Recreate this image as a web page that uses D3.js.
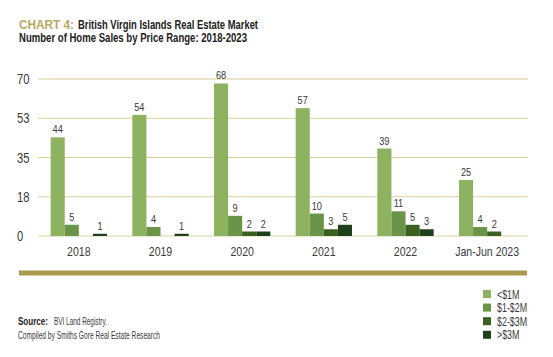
<!DOCTYPE html>
<html><head><meta charset="utf-8">
<script src="https://cdn.jsdelivr.net/npm/d3@7"></script>
<style>
html,body{margin:0;padding:0;background:#fff;}
svg{display:block;}
text{font-family:"Liberation Sans",Arial,sans-serif;}
</style></head>
<body>
<svg id="c" width="553" height="357"></svg>
<script>
const categories = ["2018","2019","2020","2021","2022","Jan-Jun 2023"];
const seriesNames = ["<$1M","$1-$2M","$2-$3M",">$3M"];
const under1M = [44,54,68,57,39,25];
const from1to2M = [5,4,9,10,11,4];
const from2to3M = [null,null,2,3,5,2];
const over3M = [1,1,2,5,3,null];
const tickValues = [0,17.5,35,52.5,70];
const tickLabels = ["0","18","35","53","70"];
const colors = ["#8db360","#6a9448","#3d5f22","#1f401c"];

const seriesValues = [under1M, from1to2M, from2to3M, over3M];
const svg = d3.select("#c");

// horizontally condense text to mimic the narrow font of the original
function condense(sel, f){
  sel.each(function(){
    const w = this.getComputedTextLength();
    d3.select(this).attr("textLength", w*f).attr("lengthAdjust","spacingAndGlyphs");
  });
  return sel;
}
function fitWidth(sel, w){
  return sel.attr("textLength", w).attr("lengthAdjust","spacingAndGlyphs");
}

const y = d3.scaleLinear().domain([0,70]).range([236,79]);
const x0 = d3.scaleBand().domain(categories).range([38,528]).paddingInner(0.31).paddingOuter(0.155);
const x1 = d3.scaleBand().domain(seriesNames).range([0,x0.bandwidth()]);

// gridlines
svg.append("g").selectAll("line").data(tickValues).join("line")
  .attr("x1",38).attr("x2",528)
  .attr("y1",d=>y(d)).attr("y2",d=>y(d))
  .attr("stroke","#d9cf9f").attr("stroke-width",1);
condense(svg.append("g").selectAll("text").data(tickValues).join("text")
  .attr("x",17).attr("y",d=>y(d)+5)
  .attr("font-size",14).attr("fill","#3a3a3a")
  .text((d,i)=>tickLabels[i]), 0.8);

// bars
const bars = [];
categories.forEach((c,ci)=>{
  seriesNames.forEach((s,si)=>{
    const v = seriesValues[si][ci];
    if (v!=null) bars.push({c,s,si,v});
  });
});
svg.append("g").selectAll("rect").data(bars).join("rect")
  .attr("x",d=>x0(d.c)+x1(d.s))
  .attr("width",x1.bandwidth())
  .attr("y",d=>y(d.v))
  .attr("height",d=>y(0)-y(d.v))
  .attr("fill",d=>colors[d.si]);
condense(svg.append("g").selectAll("text").data(bars).join("text")
  .attr("x",d=>x0(d.c)+x1(d.s)+x1.bandwidth()/2)
  .attr("y",d=>y(d.v)-4)
  .attr("text-anchor","middle").attr("font-size",11.5).attr("fill","#3a3a3a")
  .text(d=>d.v), 0.8);

// x labels
condense(svg.append("g").selectAll("text").data(categories).join("text")
  .attr("x",d=>x0(d)+x0.bandwidth()/2).attr("y",256)
  .attr("text-anchor","middle").attr("font-size",13.5).attr("fill","#3a3a3a")
  .text(d=>d), 0.78);

// gold band
svg.append("rect").attr("x",19).attr("y",270.5).attr("width",508).attr("height",5).attr("fill","#a99a4e");

// title
fitWidth(svg.append("text").attr("x",19).attr("y",28.5).attr("font-size",12.5).attr("font-weight","bold")
  .attr("fill","#b8a862").text("CHART 4:"), 55);
fitWidth(svg.append("text").attr("x",78).attr("y",28.5).attr("font-size",12.5).attr("font-weight","bold")
  .attr("fill","#222").text("British Virgin Islands Real Estate Market"), 180);
fitWidth(svg.append("text").attr("x",19).attr("y",41.5).attr("font-size",12.5).attr("font-weight","bold")
  .attr("fill","#222").text("Number of Home Sales by Price Range: 2018-2023"), 228);

// source
fitWidth(svg.append("text").attr("x",18).attr("y",325).attr("font-size",10).attr("font-weight","bold")
  .attr("fill","#222").text("Source:"), 30);
fitWidth(svg.append("text").attr("x",54).attr("y",325).attr("font-size",10.5)
  .attr("fill","#3a3a3a").text("BVI Land Registry."), 53);
fitWidth(svg.append("text").attr("x",18).attr("y",339).attr("font-size",10.5)
  .attr("fill","#3a3a3a").text("Compiled by Smiths Gore Real Estate Research"), 142);

// legend
const lg = svg.append("g").selectAll("g").data(seriesNames).join("g")
  .attr("transform",(d,i)=>`translate(483,${290+i*13.6})`);
lg.append("rect").attr("width",8).attr("height",8).attr("fill",(d,i)=>colors[i]);
condense(lg.append("text").attr("x",14).attr("y",8.5).attr("font-size",12).attr("fill","#3a3a3a").text(d=>d), 0.74);
</script>
</body></html>
